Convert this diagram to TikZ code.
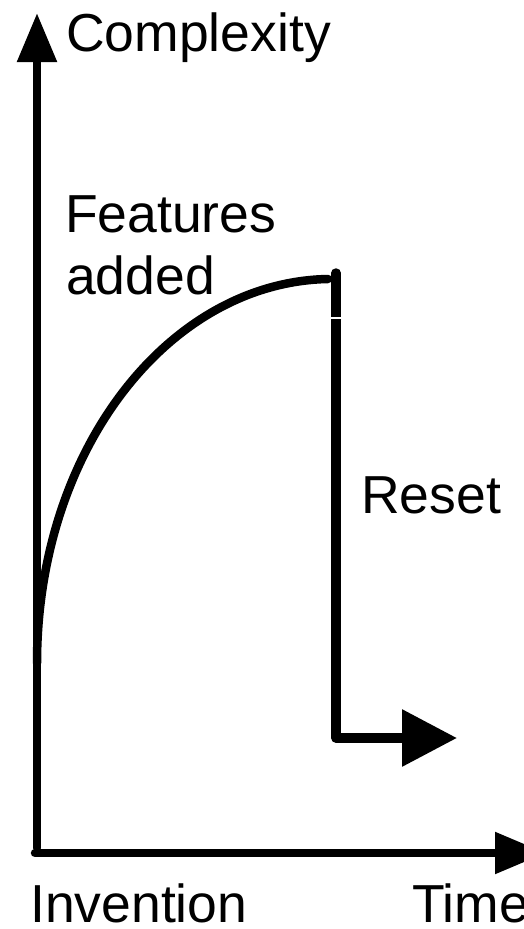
\documentclass[tikz,border=0pt]{standalone}
\usepackage{fontspec}
\setmainfont{Liberation Sans}
\usetikzlibrary{arrows.meta}
\begin{document}
\begin{tikzpicture}[x=1pt,y=1pt,
  lbl/.style={anchor=base west,inner sep=0pt,font=\fontsize{53.5}{60}\selectfont},
  thick line/.style={line width=8.5pt,line cap=round,line join=round}]
\useasboundingbox (0,0) rectangle (523,-929);
% coordinates
\coordinate (yb) at (37,-848);
\coordinate (yt) at (37,-13);
\coordinate (xl) at (35,-853);
\coordinate (xr) at (546,-853);
\coordinate (cs) at (37,-663);
\coordinate (ce) at (328,-279);
\coordinate (rt) at (336,-273);
\coordinate (rb) at (336,-738);
\coordinate (re) at (457,-738);
\coordinate (gapl) at (329,-318);
\coordinate (gapr) at (343,-318);
% axes
\draw[thick line,-{Triangle[length=49pt,width=38pt]}] (yb) -- (yt);
\draw[thick line,-{Triangle[length=51pt,width=40pt]}] (xl) -- (xr);
% curve
\draw[thick line] (cs) .. controls (37,-451) and (168,-282) .. (ce);
% reset
\draw[thick line,line width=9.5pt,-{Triangle[length=55pt,width=55pt]}] (rt) -- (rb) -- (re);
\draw[white,line width=1.5pt] (gapl) -- (gapr);
% labels
\node[lbl] (complexity) at (66,-51.5) {Complexity};
\node[lbl] (features) at (65,-232) {Features};
\node[lbl] (added) at (66,-294) {added};
\node[lbl] (reset) at (361,-513) {Reset};
\node[lbl] (invention) at (30,-922) {Invention};
\node[lbl] (time) at (412,-922) {Time};
\end{tikzpicture}
\end{document}
